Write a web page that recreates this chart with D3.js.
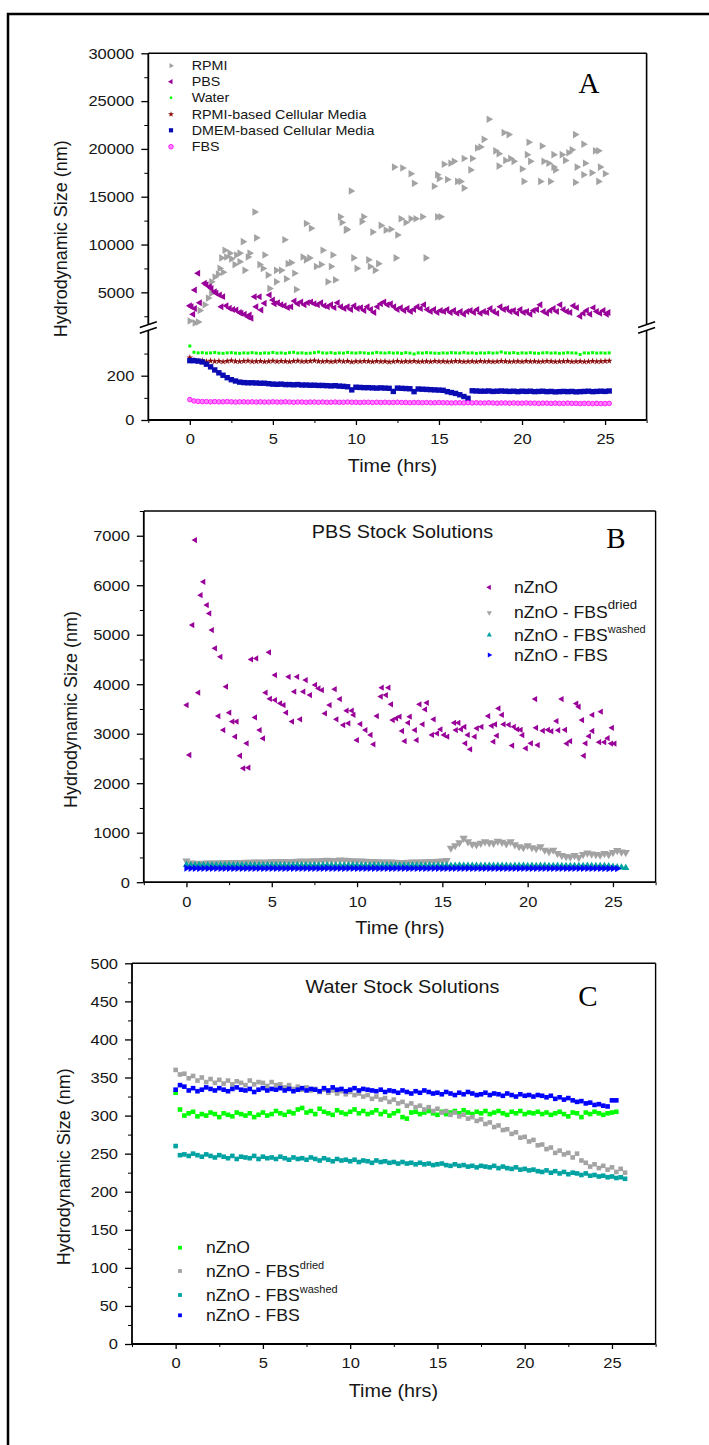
<!DOCTYPE html>
<html>
<head>
<meta charset="utf-8">
<script src="https://d3js.org/d3.v7.min.js"></script>
<style>
  body { margin: 0; background: #fff; }
  svg text { font-family: "Liberation Sans", Arial, sans-serif; fill: #161616; }
  svg text.letter { font-family: "Liberation Serif", "Times New Roman", serif; fill: #000; }
</style>
</head>
<body>
<script>
// ---------------- data ----------------
var xMajor = [0, 5, 10, 15, 20, 25];
var xMinor = [-2.5, 2.5, 7.5, 12.5, 17.5, 22.5, 27.5];

// panel A, upper part: [time, size]
var rpmi = [[0.0,2000],[0.3,1800],[0.5,1900],[0.6,3100],[0.9,3700],[1.1,4400],[1.3,4900],[1.3,6100],[1.5,6600],[1.7,6900],
  [1.8,7500],[1.9,8600],[2.0,7100],[2.1,9400],[2.2,8700],[2.4,9100],[2.5,8500],[2.7,7900],[2.8,8900],[3.0,9100],
  [3.0,8200],[3.2,10300],[3.3,7300],[3.5,8700],[3.6,9100],[3.9,13400],[4.0,10700],[4.2,7900],[4.4,7500],[4.5,8900],
  [4.7,6800],[4.8,5400],[5.2,6100],[5.2,7300],[5.5,7300],[5.7,10500],[5.8,6400],[5.9,8000],[6.1,8100],[6.3,7000],
  [6.4,5300],[6.8,8700],[7.0,8400],[7.0,12200],[7.2,8600],[7.3,11700],[7.6,7700],[7.9,7900],[8.0,9400],[8.3,6100],
  [8.5,7700],[8.6,8900],[8.75,6300],[9.05,12900],[9.15,12300],[9.4,11500],[9.45,11600],[9.7,15600],[9.85,8600],[10.05,7500],
  [10.35,12400],[10.45,12900],[10.75,8400],[10.85,7700],[11.0,11300],[11.15,7300],[11.35,8000],[11.5,12000],[11.8,11500],[12.1,11600],
  [12.3,18100],[12.4,8600],[12.5,11000],[12.7,12700],[12.8,18000],[13.0,12300],[13.3,12700],[13.3,17400],[13.5,16400],[13.6,12700],
  [14.0,12900],[14.2,8600],[14.7,16100],[14.9,12900],[14.9,17300],[15.0,16900],[15.1,12900],[15.3,18400],[15.5,16800],[15.7,18500],
  [15.9,18700],[16.1,16600],[16.3,16600],[16.5,15900],[16.5,19000],[16.9,17800],[17.0,19000],[17.3,20100],[17.5,20200],[17.7,21000],
  [18.0,23100],[18.4,19800],[18.6,19500],[18.6,18200],[18.9,21700],[19.0,18800],[19.2,21500],[19.3,19000],[19.5,18700],[20.0,17900],
  [20.1,16600],[20.3,19400],[20.4,20700],[20.5,18700],[21.1,16600],[21.2,20300],[21.3,18700],[21.6,18500],[21.7,16600],[21.9,19400],
  [21.9,18100],[22.0,17800],[22.4,19400],[22.6,18800],[22.8,19600],[23.0,19900],[23.2,21500],[23.2,16500],[23.3,18100],[23.7,20500],
  [23.7,17300],[23.8,18500],[24.2,17500],[24.4,19800],[24.6,19800],[24.6,16600],[24.7,18100],[25.0,17400]];

var pbs = [[0.0,3600],[0.1,3500],[0.2,2700],[0.3,3300],[0.3,5240],[0.5,6990],[0.6,3900],[0.9,5940],[1.0,5800],[1.2,5590],
  [1.3,5400],[1.5,5070],[1.6,4900],[1.8,4720],[1.9,3490],[2.0,4550],[2.2,3600],[2.4,3330],[2.6,3200],[2.8,3150],
  [3.0,2900],[3.1,2810],[3.3,2700],[3.5,2450],[3.6,2630],[3.7,2280],[3.9,4540],[4.0,3490],[4.2,4540],[4.3,3150],
  [4.5,3850],[4.8,4720],[5.0,4200],[5.1,3800],[5.3,3900],[5.5,3700],[5.7,3600],[5.9,3400],[6.1,3500],[6.3,4100],
  [6.5,3800],[6.7,4000],[6.9,3700],[7.1,3900],[7.3,4000],[7.5,3800],[7.7,3700],[7.9,3900],[8.1,3600],[8.3,3500],
  [8.5,3700],[8.7,3400],[8.9,3900],[9.1,3500],[9.3,3300],[9.5,3500],[9.7,3200],[9.9,3600],[10.1,3300],[10.3,3400],
  [10.5,3100],[10.7,3500],[10.9,3200],[11.1,2900],[11.3,3500],[11.5,3800],[11.7,4000],[11.9,3700],[12.1,3800],[12.3,3500],
  [12.5,3200],[12.7,3400],[12.9,3100],[13.1,3300],[13.3,3000],[13.5,3200],[13.7,3500],[13.9,3300],[14.1,3700],[14.3,3200],
  [14.5,3000],[14.7,3200],[14.9,2900],[15.1,3100],[15.3,3000],[15.5,3200],[15.7,2900],[15.9,3100],[16.1,2800],[16.3,3000],
  [16.5,2700],[16.7,3000],[16.9,3100],[17.1,2900],[17.3,3200],[17.5,2800],[17.7,3000],[17.9,2900],[18.1,3300],[18.3,3000],
  [18.5,2800],[18.7,3500],[18.9,3200],[19.1,3300],[19.3,3000],[19.5,3100],[19.7,2800],[19.9,3200],[20.1,2900],[20.3,3000],
  [20.5,2700],[20.7,3100],[20.9,3200],[21.1,3700],[21.3,3000],[21.5,2800],[21.7,3100],[21.9,3300],[22.1,3000],[22.3,3700],
  [22.5,3200],[22.7,3000],[22.9,2900],[23.1,3600],[23.3,3400],[23.5,2500],[23.7,2800],[23.9,3100],[24.1,2700],[24.3,3400],
  [24.5,3000],[24.7,2800],[24.9,3100],[25.1,2700],[25.2,2900]];

// panel A, lower part: one reading every 0.25 h from t = 0
var stepA = 0.25;
var waterA = [334,306,303,304,302,303,305,302,301,303, 304,302,301,303,302,304,302,301,303,302,
  305,302,303,301,304,306,302,303,301,302, 304,307,303,302,304,301,303,302,305,303,
  302,304,303,301,302,305,303,302,304,302, 303,301,304,302,298,303,302,304,303,302,
  301,303,302,304,303,302,305,302,303,301, 303,302,304,302,303,307,303,302,304,301,
  303,302,304,302,301,303,304,302,303,301, 302,304,303,302,296,303,302,304,302,303, 302,303];
var rpmiMediaA = [282,270,266,268,264,267,265,266,263,266, 268,265,264,266,267,264,265,266,263,265,
  267,264,266,265,263,266,267,264,265,266, 268,265,264,266,263,265,267,264,266,262,
  265,264,266,265,263,266,264,265,262,264, 266,263,265,264,266,263,264,265,263,266,
  264,265,263,264,266,265,263,264,265,263, 266,264,265,263,264,266,265,263,264,265,
  263,266,264,265,263,264,266,265,263,264, 265,266,263,264,265,263,264,266,264,265, 266,267];
var dmemA = [268,268,266,262,252,240,226,213,202,191, 182,176,171,169,168,168,167,166,166,164,
  162,161,162,160,160,159,160,158,158,157, 157,156,156,155,154,155,153,152,150,136,
  148,147,146,146,145,144,145,144,143,129, 144,143,142,141,128,140,139,138,137,136,
  135,134,128,124,120,114,106,98,132,131, 130,130,131,129,130,131,130,129,130,128,
  130,129,130,128,129,130,128,129,127,128, 129,128,129,127,128,129,130,128,129,130, 129,131];
var fbsA = [92,86,84,83,83,82,83,82,82,83, 82,81,82,82,81,82,81,82,81,81,
  82,81,81,82,81,80,81,81,80,81, 81,80,81,80,80,81,80,80,81,80,
  80,79,80,80,79,80,79,80,79,79, 80,79,79,78,79,79,78,79,78,78,
  79,78,78,77,78,78,77,78,77,78, 77,77,78,77,76,77,77,76,77,76,
  76,77,76,76,75,76,76,75,76,75, 75,76,75,75,74,75,75,74,75,74, 74,75];

// panel B
var nzno = [[0.02,3580],[0.18,2570],[0.35,5195],[0.51,6912],[0.7,3830],[0.84,5800],[1.0,6070],[1.2,5600],[1.35,5430],[1.5,5095],
  [1.68,4725],[1.88,3357],[2.0,4555],[2.17,3075],[2.33,3950],[2.52,3425],[2.7,3245],[2.86,2940],[2.95,3245],[3.15,2555],
  [3.34,2300],[3.54,2805],[3.64,2313],[3.8,4500],[4.03,3330],[4.1,4520],[4.3,3075],[4.5,2905],[4.65,3830],[4.85,4645],
  [4.9,3705],[5.2,3680],[5.2,4185],[5.5,3615],[5.7,3580],[5.85,3425],[6.0,4150],[6.2,3245],[6.33,3850],[6.5,4150],
  [6.67,3290],[6.86,3850],[7.0,4085],[7.25,3780],[7.55,3985],[7.75,3915],[7.95,3880],[8.13,3410],[8.4,3580],[8.7,3900],
  [8.8,3290],[9.0,3700],[9.2,3175],[9.4,3465],[9.5,3210],[9.7,3465],[9.8,3380],[10.0,2870],[10.2,3195],[10.5,3075],
  [10.8,2975],[10.97,2785],[11.17,3357],[11.4,3750],[11.46,3930],[11.7,3780],[11.85,3930],[12.0,3595],[12.1,3275],[12.3,3310],
  [12.5,3345],[12.65,3055],[12.8,2850],[13.0,3220],[13.1,3345],[13.4,3075],[13.5,2870],[13.67,3595],[13.85,3190],[14.0,3490],
  [14.1,3625],[14.4,2975],[14.5,3290],[14.7,3005],[14.9,3090],[15.1,2975],[15.3,2940],[15.7,3220],[15.8,3075],[15.95,3220],
  [16.1,3090],[16.3,3140],[16.35,2805],[16.5,2975],[16.64,2685],[16.9,2940],[17.03,3108],[17.3,3140],[17.7,3357],[17.9,3160],
  [18.0,2840],[18.1,3190],[18.2,2960],[18.3,3510],[18.5,3380],[18.6,3190],[18.9,3180],[19.1,2760],[19.2,3140],[19.4,3090],
  [19.6,3080],[19.7,2970],[19.9,2705],[20.2,2805],[20.45,3700],[20.5,3120],[20.6,2770],[20.9,3060],[21.2,3080],[21.4,3050],
  [21.7,3255],[21.8,3070],[22.0,3700],[22.2,3080],[22.3,2800],[22.5,2850],[22.86,3610],[23.0,3545],[23.2,3275],[23.3,2555],
  [23.4,2805],[23.6,2950],[23.8,3055],[23.8,3380],[24.2,2830],[24.3,3445],[24.5,2830],[24.7,2910],[24.95,3120],[24.9,2800],[25.1,2800]];

var stepB = 0.25;
var driedB = [430,390,385,380,385,390,388,392,395,393, 398,400,398,402,405,403,408,410,407,412,
  415,413,418,420,417,422,425,428,424,430, 435,432,440,445,438,442,450,446,440,435,
  430,428,425,420,418,415,412,410,408,405, 402,400,405,410,408,412,415,420,418,425,
  430,440,690,740,800,890,820,770,760,790, 820,800,790,830,810,780,820,760,720,700,
  740,700,680,720,650,620,650,580,540,520, 510,540,500,560,590,570,560,550,580,560, 600,640,610,600];
var washedB = [352,346,344,347,345,343,346,344,345,342, 344,346,343,345,342,344,343,345,341,343,
  342,344,341,343,340,342,344,341,343,340, 342,339,341,343,340,338,341,339,340,342,
  338,340,337,339,341,338,336,339,337,338, 336,338,335,337,339,336,334,337,335,336,
  334,336,333,335,337,334,332,335,333,334, 332,334,331,333,335,332,330,333,331,332,
  330,332,329,331,333,330,328,331,329,330, 328,330,327,329,331,328,326,329,327,322, 312,305,298,290];
var fbsB = [285,280,282,279,281,278,282,280,279,281, 280,278,281,279,282,280,278,281,279,280,
  282,279,281,278,280,282,279,281,280,278, 281,279,280,282,278,280,281,279,282,280,
  279,281,278,280,282,279,281,280,278,281, 280,282,279,281,278,280,279,281,280,282,
  279,280,278,281,279,280,282,278,280,279, 281,279,280,278,281,280,279,281,278,280,
  279,281,280,278,280,279,281,278,280,279, 278,280,279,281,278,279,280,278,279,277, 278,276];

// panel C
var stepC = 0.25;
var greenC = [330,308,300,303,305,299,302,300,304,302, 298,303,301,299,304,302,300,303,298,301,
  304,300,302,306,303,301,305,303,308,310, 304,306,302,309,305,303,301,307,304,302,
  305,308,303,306,302,304,307,302,305,300, 303,306,298,296,304,305,302,304,306,303,
  301,305,302,304,306,303,307,304,302,305, 303,306,302,304,306,303,301,305,303,306,
  302,304,303,305,302,304,301,303,305,302, 299,304,303,298,304,302,305,303,301,303, 304,305];
var grayC = [360,354,355,349, 352,346,350,344, 348,343,347,342, 346,341,345,343, 340,346,341,344,
  343,339,344,340, 341,337,340,335, 338,334,337,333, 335,331,334,330, 333,329,332,328,
  331,327,329,325, 327,322,325,321, 323,318,321,316, 318,313,316,311, 313,308,311,306,
  309,304,306,301, 304,299,301,296, 298,293,295,289, 291,285,287,281, 282,276,278,271,
  272,266,268,261, 262,256,258,251, 254,249,251,245, 250,241,238,233, 236,231,234,229, 232,226,230,225];
var tealC = [260,248,249,247, 250,248,246,249, 247,245,248,246, 244,247,243,246, 245,244,247,243,
  246,244,245,243, 246,244,242,245, 243,244,242,245, 243,241,244,242, 240,243,241,242,
  240,242,239,241, 240,238,241,239, 240,238,239,237, 239,237,238,236, 238,236,237,235,
  236,237,235,234, 236,234,235,233, 234,232,234,233, 232,234,231,233, 231,230,232,229,
  230,228,229,227, 226,228,225,227, 224,226,223,225, 224,222,224,221, 222,220,221,219, 220,218,219,217];
var blueC = [334,340,338,333,336,332,334,337,335,333, 336,334,332,335,337,334,333,335,331,334,
  336,333,335,334,336,333,335,332,334,336, 333,335,334,332,336,333,337,334,335,332,
  334,336,333,335,334,333,332,334,331,333, 332,330,333,331,329,332,330,333,331,329,
  330,328,331,329,327,330,328,331,329,327, 328,330,327,329,328,326,329,327,325,328,
  326,327,325,327,326,324,326,322,324,321, 323,320,318,319,316,317,314,315,313,312, 320,320];

// ---------------- drawing ----------------
var SX = 1.1;   // the sans text of the picture is a little wide

var svg = d3.select("body").append("svg")
    .attr("width", 709)
    .attr("height", 1445);

svg.append("rect")
    .attr("x", 8).attr("y", 14)
    .attr("width", 760).attr("height", 1500)
    .attr("fill", "none").attr("stroke", "#000").attr("stroke-width", 2.5);

function steps(vals, step) {
    return vals.map(function (v, i) { return [i * step, v]; });
}

function tri(dir, r) {
    var b = r * 0.87, h = r * 0.5;
    var pts = {
        up: [[0, -r], [b, h], [-b, h]],
        down: [[0, r], [b, -h], [-b, -h]],
        left: [[-r, 0], [h, -b], [h, b]],
        right: [[r, 0], [-h, -b], [-h, b]]
    }[dir];
    return "M" + pts.join("L") + "Z";
}

function sq(s) {
    var h = s / 2;
    return "M" + (-h) + "," + (-h) + "h" + s + "v" + s + "h" + (-s) + "Z";
}

function circ(r) {
    return d3.symbol(d3.symbolCircle, Math.PI * r * r)();
}

function dots(g, data, x, y, path, fill, stroke) {
    g.append("g").selectAll("path")
        .data(data)
        .enter()
        .append("path")
        .attr("transform", function (d) { return "translate(" + x(d[0]) + "," + y(d[1]) + ")"; })
        .attr("d", path)
        .attr("fill", fill)
        .attr("stroke", stroke || "none")
        .attr("stroke-width", stroke ? 0.8 : 0);
}

function label(x, y, s, size, anchor) {
    return svg.append("text")
        .attr("transform", "translate(" + x + "," + y + ") scale(" + SX + ",1)")
        .attr("font-size", size)
        .attr("text-anchor", anchor || "start")
        .text(s);
}

function line(x1, y1, x2, y2, w) {
    svg.append("line")
        .attr("x1", x1).attr("y1", y1).attr("x2", x2).attr("y2", y2)
        .attr("stroke", "#000").attr("stroke-width", w || 1.6);
}

function yAxis(scale, x0, major, minor) {
    svg.append("g")
        .attr("transform", "translate(" + x0 + ",0)")
        .call(d3.axisLeft(scale).tickValues(minor).tickSize(4).tickFormat(""))
        .call(function (g) { g.select(".domain").remove(); })
        .attr("color", "#000");
    var a = svg.append("g")
        .attr("transform", "translate(" + x0 + ",0)")
        .call(d3.axisLeft(scale).tickValues(major).tickSize(7).tickFormat(d3.format("d")))
        .call(function (g) { g.select(".domain").remove(); })
        .attr("color", "#000")
        .attr("font-size", 15)
        .attr("font-family", null);
    a.selectAll("line").attr("stroke-width", 1.3);
    a.selectAll("text")
        .attr("x", -14 / SX)
        .attr("transform", "scale(" + SX + ",1)")
        .attr("fill", "#161616");
}

function xAxis(scale, y0) {
    svg.append("g")
        .attr("transform", "translate(0," + y0 + ")")
        .call(d3.axisBottom(scale).tickValues(xMinor).tickSize(3).tickFormat(""))
        .call(function (g) { g.select(".domain").remove(); })
        .attr("color", "#000");
    var a = svg.append("g")
        .attr("transform", "translate(0," + y0 + ")")
        .call(d3.axisBottom(scale).tickValues(xMajor).tickSize(5).tickFormat(d3.format("d")))
        .call(function (g) { g.select(".domain").remove(); })
        .attr("color", "#000")
        .attr("font-size", 15)
        .attr("font-family", null);
    a.selectAll("line").attr("stroke-width", 1.3);
    a.selectAll("text")
        .attr("y", 13.7)
        .attr("transform", "scale(" + SX + ",1)")
        .attr("fill", "#161616");
}

function yTitle(x, y) {
    svg.append("text")
        .attr("transform", "translate(" + x + "," + y + ") rotate(-90)")
        .attr("text-anchor", "middle")
        .attr("dy", "0.35em")
        .attr("font-size", 18)
        .text("Hydrodynamic Size (nm)");
}

function fbsLabel(x, y, sup, supSize, rise) {
    var t = label(x, y, "nZnO - FBS", 16);
    if (sup) {
        t.append("tspan").attr("font-size", supSize).attr("dy", -rise).text(sup);
    }
}

var purple = "#990099", gray = "#a3a3a3", green = "#00ff00", darkRed = "#8b1010",
    navy = "#0b0bb4", magenta = "#ff00ff", teal = "#00a2a2", blue = "#0000ff";

// ---------- panel A ----------
var xA = d3.scaleLinear().domain([-2.5, 27.5]).range([148.3, 646.6]);
var yAUp = d3.scaleLinear().domain([1500, 30000]).range([325.8, 53.3]);
var yALo = d3.scaleLinear().domain([0, 400]).range([420, 331.4]);

var gA = svg.append("g");
dots(gA, rpmi, xA, yAUp, tri("right", 4.4), gray);
dots(gA, pbs, xA, yAUp, tri("left", 4), purple);
dots(gA, steps(waterA, stepA), xA, yALo, sq(3), green);
dots(gA, steps(rpmiMediaA, stepA), xA, yALo, d3.symbol(d3.symbolStar, 14)(), darkRed);
dots(gA, steps(dmemA, stepA), xA, yALo, sq(5.4), navy);
dots(gA, steps(fbsA, stepA), xA, yALo, circ(2.3), "#ff80ff", magenta);

yAxis(yAUp, 148.3, [5000, 10000, 15000, 20000, 25000, 30000],
      [2500, 7500, 12500, 17500, 22500, 27500]);
yAxis(yALo, 148.3, [0, 200], [100, 300]);
xAxis(xA, 420);

line(148.3, 53.3, 646.6, 53.3);
line(148.3, 420, 646.6, 420, 1.8);
line(148.3, 53.3, 148.3, 324.5, 1.8);
line(148.3, 330.5, 148.3, 420, 1.8);
line(646.6, 53.3, 646.6, 324.5);
line(646.6, 330.5, 646.6, 420);
[148.3, 646.6].forEach(function (bx) {
    line(bx - 8.5, 327.5, bx + 8.5, 321.8, 1.6);
    line(bx - 8.5, 333.2, bx + 8.5, 327.5, 1.6);
});

var legA = [
    ["RPMI", tri("right", 3), gray, null],
    ["PBS", tri("left", 3), purple, null],
    ["Water", sq(2.4), green, null],
    ["RPMI-based Cellular Media", d3.symbol(d3.symbolStar, 11)(), darkRed, null],
    ["DMEM-based Cellular Media", sq(4.2), navy, null],
    ["FBS", circ(2.3), "#ff80ff", magenta]
];
var legAy = [65.7, 81.7, 97.7, 114.3, 130.3, 146.7];
legA.forEach(function (d, i) {
    svg.append("path")
        .attr("transform", "translate(171," + legAy[i] + ")")
        .attr("d", d[1]).attr("fill", d[2])
        .attr("stroke", d[3] || "none").attr("stroke-width", 0.8);
    label(191.7, legAy[i] + 4.7, d[0], 13);
});

svg.append("text").attr("class", "letter")
    .attr("x", 589).attr("y", 93).attr("text-anchor", "middle")
    .attr("font-size", 29).text("A");
yTitle(61, 238.7);
label(392.5, 471.7, "Time (hrs)", 18, "middle");

// ---------- panel B ----------
var xB = d3.scaleLinear().domain([-2.5, 27.5]).range([143.8, 655.6]);
var yB = d3.scaleLinear().domain([0, 7500]).range([882.2, 511]);

var gB = svg.append("g");
dots(gB, nzno, xB, yB, tri("left", 3.6), purple);
dots(gB, steps(driedB, stepB), xB, yB, tri("down", 4.8), gray);
dots(gB, steps(washedB, stepB), xB, yB, tri("up", 4.2), teal);
dots(gB, steps(fbsB, stepB), xB, yB, tri("right", 4.2), blue);

yAxis(yB, 143.8, [0, 1000, 2000, 3000, 4000, 5000, 6000, 7000],
      [500, 1500, 2500, 3500, 4500, 5500, 6500, 7500]);
xAxis(xB, 882.2);
line(143.8, 511, 655.6, 511, 1.4);
line(655.6, 511, 655.6, 882.2, 1.4);
line(143.8, 511, 143.8, 882.2, 1.8);
line(143.8, 882.2, 655.6, 882.2, 1.8);

svg.append("text").attr("class", "letter")
    .attr("x", 615.8).attr("y", 548).attr("text-anchor", "middle")
    .attr("font-size", 29).text("B");
label(402.5, 538, "PBS Stock Solutions", 18, "middle");

var legBy = [587.3, 612.7, 635, 655];
svg.append("path").attr("transform", "translate(489.3," + legBy[0] + ")").attr("d", tri("left", 3)).attr("fill", purple);
svg.append("path").attr("transform", "translate(489.3," + legBy[1] + ")").attr("d", tri("down", 3)).attr("fill", gray);
svg.append("path").attr("transform", "translate(489.3," + legBy[2] + ")").attr("d", tri("up", 3)).attr("fill", teal);
svg.append("path").attr("transform", "translate(489.3," + legBy[3] + ")").attr("d", tri("right", 3)).attr("fill", blue);
label(514, legBy[0] + 5.7, "nZnO", 16);
fbsLabel(514, legBy[1] + 5.7, "dried", 12, 9);
fbsLabel(514, legBy[2] + 5.7, "washed", 10, 8);
fbsLabel(514, legBy[3] + 5.7, null);

yTitle(70.5, 709.5);
label(400, 933.7, "Time (hrs)", 18, "middle");

// ---------- panel C ----------
var xC = d3.scaleLinear().domain([-2.5, 27.5]).range([132, 655.6]);
var yC = d3.scaleLinear().domain([0, 500]).range([1344, 963.3]);

var gC = svg.append("g");
dots(gC, steps(greenC, stepC), xC, yC, sq(4.6), green);
dots(gC, steps(grayC, stepC), xC, yC, sq(4.6), gray);
dots(gC, steps(tealC, stepC), xC, yC, sq(4.6), teal);
dots(gC, steps(blueC, stepC), xC, yC, sq(4.6), blue);

yAxis(yC, 132, [0, 50, 100, 150, 200, 250, 300, 350, 400, 450, 500],
      [25, 75, 125, 175, 225, 275, 325, 375, 425, 475]);
xAxis(xC, 1344);
line(132, 963.3, 655.6, 963.3, 1.4);
line(655.6, 963.3, 655.6, 1344, 1.4);
line(132, 963.3, 132, 1344, 1.8);
line(132, 1344, 655.6, 1344, 1.8);

svg.append("text").attr("class", "letter")
    .attr("x", 588).attr("y", 1006).attr("text-anchor", "middle")
    .attr("font-size", 29).text("C");
label(402.5, 993, "Water Stock Solutions", 18, "middle");

var legCy = [1247.7, 1271, 1295, 1315.3];
[green, gray, teal, blue].forEach(function (c, i) {
    svg.append("path").attr("transform", "translate(180," + legCy[i] + ")").attr("d", sq(3.8)).attr("fill", c);
});
label(206, legCy[0] + 5.7, "nZnO", 16);
fbsLabel(206, legCy[1] + 5.7, "dried", 10, 8);
fbsLabel(206, legCy[2] + 5.7, "washed", 10, 8);
fbsLabel(206, legCy[3] + 5.7, null);

yTitle(63.3, 1166.7);
label(393.4, 1396.7, "Time (hrs)", 18, "middle");
</script>
</body>
</html>
